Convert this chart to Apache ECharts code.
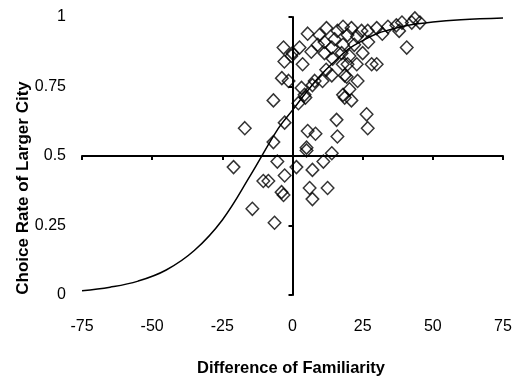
<!DOCTYPE html>
<html>
<head>
<meta charset="utf-8">
<script src="https://cdn.jsdelivr.net/npm/echarts@6/dist/echarts.min.js"></script>
<style>
  html, body { margin: 0; padding: 0; background: #fff; }
  #Chart { width: 516px; height: 376px; }
</style>
</head>
<body>
<div id="Chart"></div>
<script>
var lineColor = '#000';
var fontFamily = 'Liberation Sans, Arial, sans-serif';

// x tick labels / y tick labels
var xTicks = [-75, -50, -25, 0, 25, 50, 75];
var yTicks = [0, 0.25, 0.5, 0.75, 1];

// 每个城市对的数据点 (familiarity difference, choice rate)
var diffFamiliarity = [
    -17, -21, -6.8, 2.1, 4.3, 18, -2.8, -6.8, 5.4, 8.2, 15.7, 16, 5, 5, 14, 11, -5.4, 1.4, 7.1, -2.8,
    -10.4, -8.6, -3.9, -3.2, 6.1, 12.5, 7.1, -14.3, -6.4,
    -3.2, -2.9, -3.8, -1.4, 0, 2.5, 5.4, 6.7, 3.6, 12.1, 9.6, 11.4, 11.4, 14, 16, 14.3, 12, 14, 10.7,
    7.9, 7.1, 3.2, 4.6, 18, 19.6, 21, 18, 22, 17.5, 20.3, 24.6, 26.8, 25, 22.9, 19.6, 17.9, 18.6,
    19.3, 23.2, 28.2, 30, 18.6, 21, 20.3, 26.4, 26.8, 30, 34, 37, 38, 39, 42.5, 43.6, 45.4, 40.7,
    -0.4, 9, 15, 23, 27, 32
];
var choiceRate = [
    0.60, 0.46, 0.70, 0.69, 0.72, 0.72, 0.62, 0.55, 0.59, 0.58, 0.63, 0.57, 0.53, 0.52, 0.51, 0.48, 0.48, 0.46, 0.45, 0.43,
    0.41, 0.41, 0.37, 0.36, 0.385, 0.385, 0.345, 0.31, 0.26,
    0.89, 0.84, 0.78, 0.77, 0.87, 0.89, 0.94, 0.875, 0.83, 0.96, 0.935, 0.91, 0.87, 0.89, 0.95, 0.85, 0.81, 0.79, 0.77,
    0.77, 0.755, 0.745, 0.71, 0.965, 0.935, 0.96, 0.90, 0.90, 0.87, 0.86, 0.95, 0.95, 0.87, 0.83, 0.83, 0.83, 0.79,
    0.785, 0.77, 0.83, 0.83, 0.71, 0.70, 0.74, 0.65, 0.60, 0.96, 0.965, 0.97, 0.95, 0.98, 0.98, 0.995, 0.98, 0.89,
    0.86, 0.90, 0.92, 0.93, 0.91, 0.94
];

// 拟合曲线
var curveX = [-75, -65, -55, -45, -35, -25, -15, -5, 0, 5, 10, 15, 20, 25, 30, 35, 40, 50, 60, 75];
var curveY = [0.015, 0.028, 0.05, 0.09, 0.16, 0.27, 0.43, 0.60, 0.665, 0.73, 0.79, 0.84, 0.885, 0.915, 0.94, 0.955, 0.968, 0.982, 0.99, 0.996];

var Chart = function () {
    var myChart = echarts.init(document.getElementById('Chart'));

    var points = diffFamiliarity.map(function (x, i) { return [x, choiceRate[i]]; });
    var curve = curveX.map(function (x, i) { return [x, curveY[i]]; });

    var option = {
        animation: false,
        grid: {
            left: 82,
            right: 13,
            top: 17,
            bottom: 81
        },
        xAxis: [
            {
                // labels only
                type: 'value',
                min: -75,
                max: 75,
                interval: 25,
                axisLine: { show: false },
                axisTick: { show: false },
                splitLine: { show: false },
                axisLabel: {
                    margin: 24,
                    color: '#000',
                    fontSize: 16,
                    fontFamily: fontFamily
                }
            },
            {
                // 横线 at y = 0.5
                type: 'value',
                min: -75,
                max: 75,
                interval: 25,
                position: 'bottom',
                offset: -139,
                axisLine: { show: true, onZero: false, lineStyle: { color: lineColor, width: 2 } },
                axisTick: { show: true, length: 4, lineStyle: { color: lineColor, width: 2 } },
                axisLabel: { show: false },
                splitLine: { show: false }
            }
        ],
        yAxis: [
            {
                // labels only
                type: 'value',
                min: 0,
                max: 1,
                interval: 0.25,
                axisLine: { show: false },
                axisTick: { show: false },
                splitLine: { show: false },
                axisLabel: {
                    margin: 16,
                    color: '#000',
                    fontSize: 16,
                    fontFamily: fontFamily,
                    formatter: function (v) { return String(v); }
                }
            },
            {
                // 竖线 at x = 0
                type: 'value',
                min: 0,
                max: 1,
                interval: 0.25,
                axisLine: { show: true, onZero: true, lineStyle: { color: lineColor, width: 2 } },
                axisTick: { show: true, inside: true, length: 4, lineStyle: { color: lineColor, width: 2 } },
                axisLabel: { show: false },
                splitLine: { show: false }
            }
        ],
        graphic: [
            {
                type: 'text',
                x: 291,
                y: 368,
                style: {
                    text: 'Difference of Familiarity',
                    fill: '#000',
                    font: 'bold 16.5px ' + fontFamily,
                    align: 'center',
                    verticalAlign: 'middle'
                }
            },
            {
                type: 'text',
                x: 23,
                y: 188,
                rotation: Math.PI / 2,
                style: {
                    text: 'Choice Rate of Larger City',
                    fill: '#000',
                    font: 'bold 17px ' + fontFamily,
                    align: 'center',
                    verticalAlign: 'middle'
                }
            }
        ],
        series: [
            {
                name: 'curve',
                type: 'line',
                data: curve,
                smooth: 0.4,
                showSymbol: false,
                symbol: 'none',
                lineStyle: { color: lineColor, width: 1.5 },
                z: 2
            },
            {
                name: 'cities',
                type: 'scatter',
                data: points,
                symbol: 'diamond',
                symbolSize: [12.5, 13],
                itemStyle: {
                    color: 'rgba(255,255,255,0)',
                    borderColor: lineColor,
                    borderWidth: 1.5
                },
                z: 3
            }
        ]
    };
    myChart.setOption(option);
};

Chart();
</script>
</body>
</html>
